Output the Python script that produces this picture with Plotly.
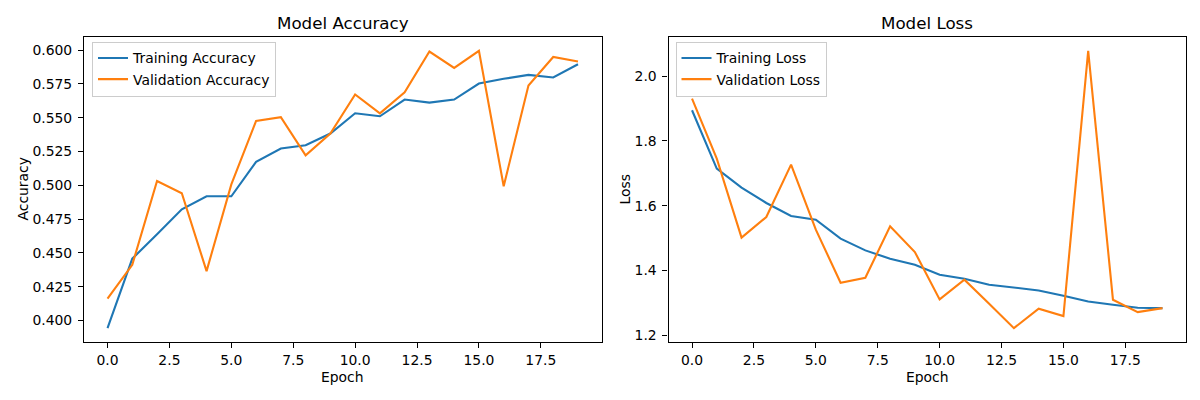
import plotly.graph_objects as go

epochs = list(range(20))

train_acc = [0.3943, 0.4457, 0.4637, 0.4822, 0.4919, 0.4919, 0.5173, 0.5272, 0.5296, 0.5383,
             0.5533, 0.5511, 0.5635, 0.5612, 0.5635, 0.5753, 0.5788, 0.5817, 0.5798, 0.5896]
val_acc = [0.4161, 0.4412, 0.5032, 0.4941, 0.4365, 0.5007, 0.5476, 0.5504, 0.5222, 0.5383,
           0.5672, 0.5533, 0.5689, 0.5990, 0.5869, 0.5995, 0.4993, 0.5739, 0.5950, 0.5916]

train_loss = [1.8944, 1.7145, 1.6558, 1.6084, 1.5683, 1.5571, 1.4985, 1.4623, 1.4367, 1.4181,
              1.3873, 1.3750, 1.3565, 1.3472, 1.3389, 1.3225, 1.3049, 1.2946, 1.2855, 1.2843]
val_loss = [1.9305, 1.7454, 1.5015, 1.5651, 1.7268, 1.5262, 1.3627, 1.3781, 1.5364, 1.4573,
            1.3111, 1.3719, 1.2978, 1.2226, 1.2823, 1.2597, 2.0775, 1.3102, 1.2720, 1.2843]

BLUE = "#1f77b4"
ORANGE = "#ff7f0e"
FONT = "DejaVu Sans"
FS = 13.9

# page body has an 8px margin; the figure is drawn inside 8..1200 x 8..400
OFF = 8
W, H = 1200 - OFF, 400 - OFF


def px(x):
    return (x - OFF) / W


def py(y):
    return 1 - (y - OFF) / H


fig = go.Figure()
fig.add_trace(go.Scatter(x=epochs, y=train_acc, mode="lines", name="Training Accuracy",
                         line=dict(color=BLUE, width=2.1), xaxis="x", yaxis="y", legend="legend"))
fig.add_trace(go.Scatter(x=epochs, y=val_acc, mode="lines", name="Validation Accuracy",
                         line=dict(color=ORANGE, width=2.1), xaxis="x", yaxis="y", legend="legend"))
fig.add_trace(go.Scatter(x=epochs, y=train_loss, mode="lines", name="Training Loss",
                         line=dict(color=BLUE, width=2.1), xaxis="x2", yaxis="y2", legend="legend2"))
fig.add_trace(go.Scatter(x=epochs, y=val_loss, mode="lines", name="Validation Loss",
                         line=dict(color=ORANGE, width=2.1), xaxis="x2", yaxis="y2", legend="legend2"))


def pad_range(vals_list, frac=0.05):
    lo = min(min(v) for v in vals_list)
    hi = max(max(v) for v in vals_list)
    m = (hi - lo) * frac
    return [lo - m, hi + m]


axis_common = dict(showline=True, mirror=True, linecolor="black", linewidth=1.1,
                   ticks="outside", ticklen=5, tickwidth=1.1, tickcolor="black",
                   showgrid=False, zeroline=False,
                   tickfont=dict(family=FONT, size=FS, color="black"))

xr = pad_range([epochs])
L = [px(84), px(601.5)]
R = [px(668.5), px(1186)]
YD = [py(342), py(37)]

legend_style = dict(xanchor="left", yanchor="top",
                    bgcolor="rgba(255,255,255,0.8)", bordercolor="#cccccc", borderwidth=1,
                    font=dict(family=FONT, size=FS, color="black"), tracegroupgap=0)

fig.update_layout(
    width=W, height=H,
    margin=dict(l=0, r=0, t=0, b=0),
    paper_bgcolor="white", plot_bgcolor="white",
    font=dict(family=FONT, size=FS, color="black"),
    xaxis=dict(domain=L, range=xr, tick0=0, dtick=2.5, tickformat=".1f", anchor="y", **axis_common),
    yaxis=dict(domain=YD, range=pad_range([train_acc, val_acc]), tick0=0.4, dtick=0.025,
               tickformat=".3f", anchor="x", ticklabelstandoff=3, **axis_common),
    xaxis2=dict(domain=R, range=xr, tick0=0, dtick=2.5, tickformat=".1f", anchor="y2", **axis_common),
    yaxis2=dict(domain=YD, range=pad_range([train_loss, val_loss]), tick0=1.2, dtick=0.2,
                tickformat=".1f", anchor="x2", ticklabelstandoff=3, **axis_common),
    legend=dict(x=px(92), y=py(41.5), **legend_style),
    legend2=dict(x=px(675.5), y=py(41.5), **legend_style),
    showlegend=True,
    annotations=[
        dict(text="Model Accuracy", x=(L[0] + L[1]) / 2, y=py(23), xref="paper", yref="paper",
             showarrow=False, xanchor="center", yanchor="middle", font=dict(family=FONT, size=16.7)),
        dict(text="Model Loss", x=(R[0] + R[1]) / 2, y=py(23), xref="paper", yref="paper",
             showarrow=False, xanchor="center", yanchor="middle", font=dict(family=FONT, size=16.7)),
        dict(text="Epoch", x=(L[0] + L[1]) / 2, y=py(377), xref="paper", yref="paper",
             showarrow=False, xanchor="center", yanchor="middle", font=dict(family=FONT, size=FS)),
        dict(text="Epoch", x=(R[0] + R[1]) / 2, y=py(377), xref="paper", yref="paper",
             showarrow=False, xanchor="center", yanchor="middle", font=dict(family=FONT, size=FS)),
        dict(text="Accuracy", x=px(22), y=(YD[0] + YD[1]) / 2, xref="paper", yref="paper",
             showarrow=False, xanchor="center", yanchor="middle", textangle=-90,
             font=dict(family=FONT, size=FS)),
        dict(text="Loss", x=px(624), y=(YD[0] + YD[1]) / 2, xref="paper", yref="paper",
             showarrow=False, xanchor="center", yanchor="middle", textangle=-90,
             font=dict(family=FONT, size=FS)),
    ],
)

fig.write_html("out.html")
